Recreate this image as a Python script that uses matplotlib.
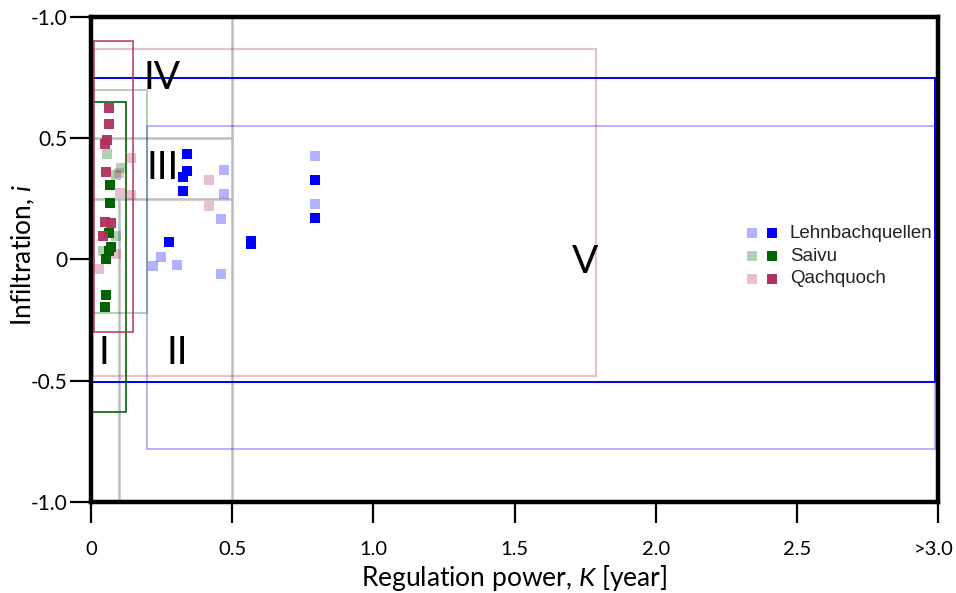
import matplotlib
matplotlib.use("Agg")
import matplotlib.pyplot as plt
from matplotlib.patches import Rectangle
from matplotlib.transforms import ScaledTranslation

# ---------------- data ----------------
lehn_dark_x = [0.339, 0.339, 0.325, 0.325, 0.277, 0.566, 0.566, 0.793, 0.793]
lehn_dark_y = [0.437, 0.365, 0.340, 0.282, 0.072, 0.078, 0.064, 0.326, 0.171]
lehn_light_x = [0.793, 0.793, 0.472, 0.472, 0.460, 0.248, 0.221, 0.303, 0.460]
lehn_light_y = [0.426, 0.227, 0.371, 0.271, 0.165, 0.012, -0.025, -0.022, -0.059]

saivu_dark_x = [0.066, 0.066, 0.064, 0.072, 0.062, 0.052, 0.054, 0.048]
saivu_dark_y = [0.306, 0.234, 0.111, 0.050, 0.035, 0.004, -0.145, -0.194]
saivu_light_x = [0.057, 0.106, 0.089, 0.090, 0.043]
saivu_light_y = [0.434, 0.376, 0.347, 0.095, 0.035]

qach_dark_x = [0.063, 0.063, 0.048, 0.056, 0.054, 0.048, 0.070, 0.043]
qach_dark_y = [0.625, 0.557, 0.478, 0.492, 0.361, 0.154, 0.150, 0.095]
qach_light_x = [0.418, 0.418, 0.143, 0.098, 0.102, 0.143, 0.090, 0.027]
qach_light_y = [0.329, 0.220, 0.419, 0.358, 0.276, 0.267, 0.023, -0.038]

# envelopes: (x0, x1, y0, y1)
lehn_dark_box = (0.0, 2.99, -0.505, 0.75)
lehn_light_box = (0.2, 2.99, -0.78, 0.55)
saivu_dark_box = (0.0, 0.125, -0.63, 0.65)
saivu_light_box = (0.0, 0.2, -0.22, 0.70)
qach_dark_box = (0.012, 0.15, -0.30, 0.90)
qach_light_box = (0.006, 1.79, -0.48, 0.87)

series_names = ["Lehnbachquellen", "Saivu", "Qachquoch"]
series_colors = ["#0000FF", "#006400", "#B03060"]

x_ticks = [0, 0.5, 1.0, 1.5, 2.0, 2.5, 3.0]
x_ticklabels = ["0", "0.5", "1.0", "1.5", "2.0", "2.5", ">3.0"]
y_ticks = [1.0, 0.5, 0.0, -0.5, -1.0]
y_ticklabels = ["-1.0", "0.5", "0", "-0.5", "-1.0"]

region_labels = ["I", "II", "III", "IV", "V"]
region_label_x = [0.046, 0.305, 0.255, 0.25, 1.75]
region_label_y = [-0.384, -0.384, 0.376, 0.75, -0.01]

# ---------------- figure ----------------
FONT = ['Lato', 'DejaVu Sans']
plt.rcParams['mathtext.fontset'] = 'custom'
plt.rcParams['mathtext.rm'] = 'Lato'
plt.rcParams['mathtext.it'] = 'Lato:italic'

fig = plt.figure(figsize=(9.56, 5.93), dpi=100)
ax = fig.add_axes([0.0952, 0.1535, 0.886, 0.8178])
ax.set_xlim(0, 3.0)
ax.set_ylim(-1.0, 1.0)

# grey region lines
grey = "#BDBDBD"
ax.plot([0.5, 0.5], [-1.0, 1.0], color=grey, lw=1.8, zorder=1)
ax.plot([0.1, 0.1], [-1.0, 0.25], color=grey, lw=1.8, zorder=1)
ax.plot([0.0, 0.5], [0.5, 0.5], color=grey, lw=1.8, zorder=1)
ax.plot([0.0, 0.5], [0.25, 0.25], color=grey, lw=1.8, zorder=1)

def box(b, color, alpha, lw):
    x0, x1, y0, y1 = b
    ax.add_patch(Rectangle((x0, y0), x1 - x0, y1 - y0, fill=False,
                           edgecolor=color, alpha=alpha, lw=lw, zorder=2))

box(lehn_light_box, series_colors[0], 0.3, 1.4)
box(saivu_light_box, series_colors[1], 0.3, 1.4)
box(qach_light_box, series_colors[2], 0.3, 1.6)
box(lehn_dark_box, series_colors[0], 1.0, 1.4)
box(saivu_dark_box, series_colors[1], 1.0, 1.2)
box(qach_dark_box, series_colors[2], 0.9, 1.2)

ms = 7.4
for xs, ys, c in [(lehn_light_x, lehn_light_y, series_colors[0]),
                  (saivu_light_x, saivu_light_y, series_colors[1]),
                  (qach_light_x, qach_light_y, series_colors[2])]:
    ax.plot(xs, ys, 's', ms=ms, mew=0, color=c, alpha=0.3, zorder=3)
for xs, ys, c in [(lehn_dark_x, lehn_dark_y, series_colors[0]),
                  (saivu_dark_x, saivu_dark_y, series_colors[1]),
                  (qach_dark_x, qach_dark_y, series_colors[2])]:
    ax.plot(xs, ys, 's', ms=ms, mew=0, color=c, alpha=1.0 if c != series_colors[2] else 0.95, zorder=4)

# region labels
for t, x, y in zip(region_labels, region_label_x, region_label_y):
    ax.text(x, y, t, fontsize=28, ha='center', va='center', family=FONT, zorder=5)

# legend (manual)
leg_y = [0.5546, 0.507, 0.460]
for name, c, y in zip(series_names, series_colors, leg_y):
    ax.plot([0.780], [y], 's', ms=7.6, mew=0, color=c, alpha=0.3, transform=ax.transAxes, clip_on=False)
    ax.plot([0.804], [y], 's', ms=7.6, mew=0, color=c, transform=ax.transAxes, clip_on=False)
    ax.text(0.825, y, name, transform=ax.transAxes, va='center', ha='left',
            fontsize=13.5, family=['Liberation Sans', 'DejaVu Sans'], color='#222222')

# axes styling
for s in ax.spines.values():
    s.set_linewidth(3.2)
    s.set_color('black')
    s.set_zorder(6)

ax.set_xticks(x_ticks)
ax.set_xticklabels(x_ticklabels, family=FONT, fontsize=14.5)
ax.set_yticks(y_ticks)
ax.set_yticklabels(y_ticklabels, family=FONT, fontsize=15)
ax.tick_params(axis='both', direction='out', length=15, width=1.6, color='black')
ax.tick_params(axis='y', pad=2)
ax.tick_params(axis='x', pad=13)

# nudge the last x tick label so it stays inside the figure
last = ax.get_xticklabels()[-1]
last.set_transform(last.get_transform() + ScaledTranslation(-4 / 100, 0, fig.dpi_scale_trans))

fig.text(514 / 956, 1 - 578 / 593, "Regulation power, $K$ [year]", fontsize=19,
         family=FONT, ha='center', va='center')
fig.text(23 / 956, 1 - 255 / 593, "Infiltration, $i$", fontsize=19,
         family=FONT, ha='center', va='center', rotation=90)

fig.savefig("out.png", dpi=100)
